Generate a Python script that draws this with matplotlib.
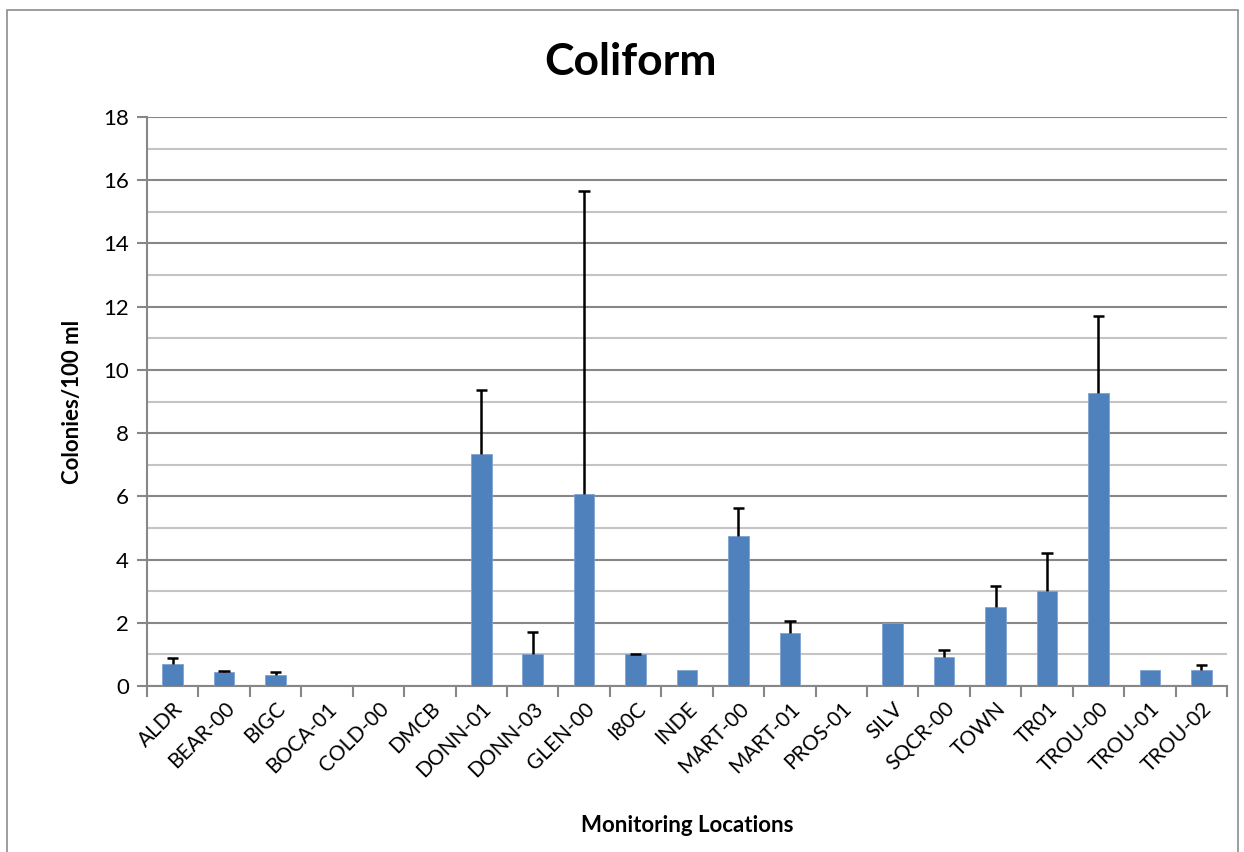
import matplotlib.pyplot as plt
import numpy as np
from matplotlib.patches import Rectangle

plt.rcParams['font.family'] = ['Lato', 'DejaVu Sans']

# dados
locations = ['ALDR', 'BEAR-00', 'BIGC', 'BOCA-01', 'COLD-00', 'DMCB', 'DONN-01',
             'DONN-03', 'GLEN-00', 'I80C', 'INDE', 'MART-00', 'MART-01', 'PROS-01',
             'SILV', 'SQCR-00', 'TOWN', 'TR01', 'TROU-00', 'TROU-01', 'TROU-02']
means = [0.70, 0.43, 0.34, 0, 0, 0, 7.34,
         1.0, 6.07, 1.0, 0.5, 4.74, 1.69, 0,
         2.0, 0.92, 2.49, 3.0, 9.26, 0.5, 0.5]
err_upper = [0.17, 0.06, 0.10, 0, 0, 0, 2.03,
             0.72, 9.59, 0.01, 0, 0.88, 0.37, 0,
             0, 0.21, 0.67, 1.20, 2.46, 0, 0.16]

fig = plt.figure(figsize=(12.44, 8.52), dpi=100)
fig.patches.append(Rectangle((7 / 1244, -0.01), 1231 / 1244, 1 - 10 / 852 + 0.01,
                             transform=fig.transFigure, fill=False,
                             edgecolor='#8c8c8c', linewidth=1.2))

ax = fig.add_axes([147 / 1244, 1 - 686 / 852, 1080 / 1244, 569 / 852])
x = np.arange(len(locations))
m = np.array(means)
err = np.array(err_upper)
mask = err > 0

ax.bar(x, m, width=0.4, color='#4f81bd', edgecolor='#7ea3d3', linewidth=0.6, zorder=3)
# barras de erro so para cima
ax.vlines(x[mask], m[mask], m[mask] + err[mask], color='black', linewidth=1.8, zorder=4)
ax.hlines(m[mask] + err[mask], x[mask] - 0.11, x[mask] + 0.11, color='black',
          linewidth=1.8, zorder=4)

ax.set_xlim(-0.5, len(locations) - 0.5)
ax.set_ylim(0, 18)
ax.set_yticks(np.arange(0, 19, 2))
ax.set_yticks(np.arange(1, 18, 2), minor=True)
ax.yaxis.grid(True, which='major', color='#878787', linewidth=1.5, zorder=0)
ax.yaxis.grid(True, which='minor', color='#c4c4c4', linewidth=1.5, zorder=0)
ax.tick_params(axis='y', which='major', length=7, width=1.5, color='#878787', labelsize=16, pad=6)
ax.tick_params(axis='y', which='minor', length=0)

ax.set_xticks(x)
ax.set_xticklabels(locations, rotation=45, ha='right', rotation_mode='anchor', fontsize=15)
ax.set_xticks(np.arange(-0.5, len(locations)), minor=True)
ax.tick_params(axis='x', which='major', length=0, pad=9)
ax.tick_params(axis='x', which='minor', length=8, width=1.5, color='#878787')

for s in ['top', 'right']:
    ax.spines[s].set_visible(False)
for s in ['left', 'bottom']:
    ax.spines[s].set_color('#878787')
    ax.spines[s].set_linewidth(1.5)

ax.set_ylabel('Colonies/100 ml', fontsize=16, fontweight='bold')
ax.yaxis.set_label_coords(-64 / 1080, 0.5)
ax.set_xlabel('Monitoring Locations', fontsize=16, fontweight='bold')
ax.xaxis.set_label_coords(0.5, -(815 - 686) / 569)
fig.text(630 / 1244, 1 - 62 / 852, 'Coliform', fontsize=32, fontweight='bold',
         ha='center', va='center')

fig.savefig('out.png', dpi=100)
